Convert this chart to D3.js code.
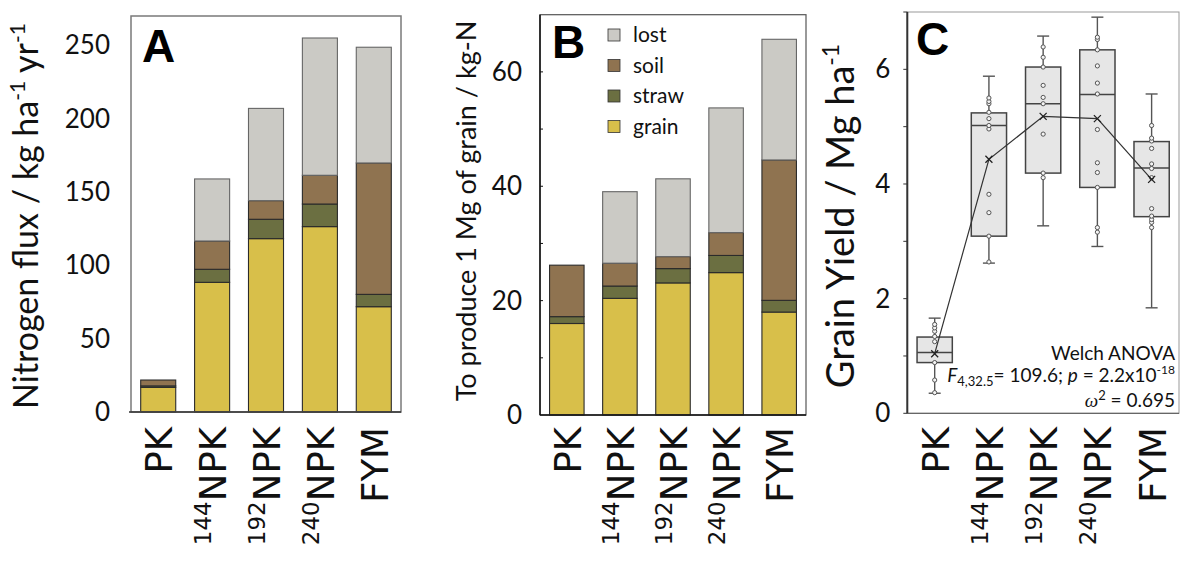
<!DOCTYPE html>
<html>
<head>
<meta charset="utf-8">
<script src="https://cdn.jsdelivr.net/npm/d3@7"></script>
<style>
  html, body { margin: 0; padding: 0; background: #fff; }
  svg { display: block; }
</style>
</head>
<body>
<svg id="chart" width="1181" height="565"></svg>
<script>
// ---------------- DATA ----------------
const categories = ["PK", "144NPK", "192NPK", "240NPK", "FYM"];
const labelPrefix = ["", "144", "192", "240", ""];
const labelMain = ["PK", "NPK", "NPK", "NPK", "FYM"];

const seriesNames = ["grain", "straw", "soil", "lost"];
const legendOrder = ["lost", "soil", "straw", "grain"];

// Panel A: Nitrogen flux (kg ha-1 yr-1)
const fluxGrain = [16.8, 88.4, 118.2, 126.4, 71.8];
const fluxStraw = [1.0, 8.9, 13.2, 15.4, 8.4];
const fluxSoil  = [4.0, 19.3, 12.7, 19.6, 89.6];
const fluxLost  = [0, 42.3, 62.9, 93.6, 78.9];
const fluxTicks = [0, 50, 100, 150, 200, 250];

// Panel B: N to produce 1 Mg of grain (kg-N)
const perGrainGrain = [16.0, 20.4, 23.1, 24.9, 18.0];
const perGrainStraw = [1.2, 2.15, 2.5, 3.0, 2.05];
const perGrainSoil  = [9.0, 4.0, 2.1, 4.0, 24.55];
const perGrainLost  = [0, 12.5, 13.6, 21.8, 21.1];
const perGrainTicks = [0, 20, 40, 60];

// Panel C: Grain yield (Mg ha-1) box plots
const yieldMin    = [0.35, 2.62, 3.27, 2.91, 1.84];
const yieldQ1     = [0.885, 3.09, 4.19, 3.94, 3.43];
const yieldMedian = [1.06, 5.02, 5.40, 5.56, 4.28];
const yieldQ3     = [1.33, 5.24, 6.04, 6.34, 4.74];
const yieldMax    = [1.66, 5.88, 6.58, 6.91, 5.57];
const yieldMean   = [1.04, 4.43, 5.18, 5.14, 4.08];
const yieldPointsPK     = [0.36, 0.58, 0.885, 1.25, 1.34, 1.43, 1.49, 1.55];
const yieldPoints144NPK = [2.64, 3.09, 3.50, 3.82, 4.96, 5.02, 5.14, 5.25, 5.40, 5.44, 5.50];
const yieldPoints192NPK = [4.11, 4.19, 4.87, 5.40, 5.51, 5.72, 6.04, 6.21, 6.39];
const yieldPoints240NPK = [3.16, 3.24, 3.94, 4.20, 4.37, 4.95, 5.57, 5.76, 6.06, 6.34, 6.52, 6.56];
const yieldPointsFYM    = [3.24, 3.33, 3.38, 3.44, 3.57, 4.11, 4.27, 4.35, 4.62, 4.75, 4.80, 5.02];
const yieldTicks = [0, 2, 4, 6];

// ---------------- STYLE ----------------
const colors = { grain: "#d8bf4a", straw: "#6b6f41", soil: "#8f7350", lost: "#cbcac5" };
const sansFont = "Lato, 'Open Sans', sans-serif";
const labelFont = "'DejaVu Sans', sans-serif";

const svg = d3.select("#chart");

function stackedPanel(cfg) {
  const { left, right, top, bottom, domainMax, grain, straw, soil, lost, ticks } = cfg;
  const rows = categories.map((c, i) => ({ cat: c, grain: grain[i], straw: straw[i], soil: soil[i], lost: lost[i] }));
  const x = d3.scaleBand().domain(categories).range([left, right]).paddingInner(0.35).paddingOuter(0.18);
  const y = d3.scaleLinear().domain([0, domainMax]).range([bottom, top]);
  const g = svg.append("g");

  const stacked = d3.stack().keys(seriesNames)(rows);
  g.selectAll("g.layer").data(stacked).join("g")
    .attr("fill", d => colors[d.key])
    .selectAll("rect").data(d => d.filter(e => e[1] - e[0] > 0)).join("rect")
    .attr("x", d => x(d.data.cat))
    .attr("width", x.bandwidth())
    .attr("y", d => y(d[1]))
    .attr("height", d => y(d[0]) - y(d[1]))
    .attr("stroke", function() { return d3.select(this.parentNode).datum().key === "lost" ? "#666" : "#2b2b2b"; })
    .attr("stroke-width", 1.1);

  g.selectAll("text.tick").data(ticks).join("text")
    .attr("x", left - cfg.tickGap)
    .attr("y", d => y(d))
    .attr("dy", "0.35em")
    .attr("text-anchor", "end")
    .attr("font-family", sansFont)
    .attr("font-size", cfg.tickSize)
    .attr("fill", "#111")
    .text(d => d);

  return { x, y, g };
}

// ---------------- PANEL A ----------------
const A = stackedPanel({ left: 131, right: 401, top: 16, bottom: 412, domainMax: 270,
  grain: fluxGrain, straw: fluxStraw, soil: fluxSoil, lost: fluxLost, ticks: fluxTicks, tickGap: 21, tickSize: 26 });
A.g.append("rect").attr("x", 131).attr("y", 16).attr("width", 270).attr("height", 396)
  .attr("fill", "none").attr("stroke", "#7a7a7a").attr("stroke-width", 1.5);
A.g.append("line").attr("x1", 129).attr("x2", 401).attr("y1", 412).attr("y2", 412).attr("stroke", "#333").attr("stroke-width", 1.5);

// ---------------- PANEL B ----------------
const B = stackedPanel({ left: 540, right: 806, top: 14.7, bottom: 415, domainMax: 70,
  grain: perGrainGrain, straw: perGrainStraw, soil: perGrainSoil, lost: perGrainLost, ticks: perGrainTicks, tickGap: 18, tickSize: 26 });
B.g.append("rect").attr("x", 540).attr("y", 14.7).attr("width", 266).attr("height", 400.3)
  .attr("fill", "none").attr("stroke", "#555").attr("stroke-width", 1.2);
B.g.append("line").attr("x1", 540).attr("x2", 540).attr("y1", 14.7).attr("y2", 415).attr("stroke", "#111").attr("stroke-width", 1.5);
B.g.append("line").attr("x1", 540).attr("x2", 806).attr("y1", 415).attr("y2", 415).attr("stroke", "#111").attr("stroke-width", 1.5);
B.g.selectAll("line.minor").data(d3.range(10, 70, 10)).join("line")
  .attr("x1", 540).attr("x2", 543).attr("y1", d => B.y(d)).attr("y2", d => B.y(d))
  .attr("stroke", "#111").attr("stroke-width", 1);

// Legend in B
const leg = svg.append("g");
legendOrder.forEach((k, i) => {
  const cy = 35 + i * 30.5;
  leg.append("rect").attr("x", 608).attr("y", cy - 6).attr("width", 12).attr("height", 12)
    .attr("fill", colors[k]).attr("stroke", "#333").attr("stroke-width", 0.8);
  leg.append("text").attr("x", 633).attr("y", cy).attr("dy", "0.35em")
    .attr("font-family", sansFont).attr("font-size", 21).attr("fill", "#111").text(k);
});

// ---------------- PANEL C ----------------
const cLeft = 907.3, cRight = 1179, cTop = 12, cBottom = 413.3;
const xC = d3.scaleBand().domain(categories).range([cLeft, cRight]).paddingInner(0.35).paddingOuter(0.18);
const yC = d3.scaleLinear().domain([0, 7]).range([cBottom, cTop]);
const C = svg.append("g");
C.append("rect").attr("x", cLeft).attr("y", cTop).attr("width", cRight - cLeft).attr("height", cBottom - cTop)
  .attr("fill", "none").attr("stroke", "#999").attr("stroke-width", 1);
C.append("line").attr("x1", cLeft).attr("x2", cRight).attr("y1", cBottom).attr("y2", cBottom).attr("stroke", "#666").attr("stroke-width", 1.2);
C.append("line").attr("x1", cLeft).attr("x2", cLeft).attr("y1", cTop).attr("y2", cBottom).attr("stroke", "#333").attr("stroke-width", 2);
C.selectAll("line.tk").data(d3.range(0, 8, 1)).join("line")
  .attr("x1", cLeft - 4).attr("x2", cLeft).attr("y1", d => yC(d)).attr("y2", d => yC(d))
  .attr("stroke", "#333").attr("stroke-width", 1);
C.selectAll("text.tick").data(yieldTicks).join("text")
  .attr("x", cLeft - 17).attr("y", d => yC(d)).attr("dy", "0.35em").attr("text-anchor", "end")
  .attr("font-family", sansFont).attr("font-size", 26).attr("fill", "#111").text(d => d);

const allPoints = [yieldPointsPK, yieldPoints144NPK, yieldPoints192NPK, yieldPoints240NPK, yieldPointsFYM];
const bw = xC.bandwidth();
categories.forEach((c, i) => {
  const cx = xC(c) + bw / 2;
  const gb = C.append("g");
  gb.append("line").attr("x1", cx).attr("x2", cx).attr("y1", yC(yieldMax[i])).attr("y2", yC(yieldQ3[i])).attr("stroke", "#555").attr("stroke-width", 1.4);
  gb.append("line").attr("x1", cx).attr("x2", cx).attr("y1", yC(yieldQ1[i])).attr("y2", yC(yieldMin[i])).attr("stroke", "#555").attr("stroke-width", 1.4);
  [yieldMax[i], yieldMin[i]].forEach(v => {
    gb.append("line").attr("x1", cx - 6).attr("x2", cx + 6).attr("y1", yC(v)).attr("y2", yC(v)).attr("stroke", "#555").attr("stroke-width", 1.4);
  });
  gb.append("rect").attr("x", xC(c)).attr("width", bw).attr("y", yC(yieldQ3[i])).attr("height", yC(yieldQ1[i]) - yC(yieldQ3[i]))
    .attr("fill", "#e6e6e6").attr("stroke", "#444").attr("stroke-width", 1.5);
  gb.append("line").attr("x1", xC(c)).attr("x2", xC(c) + bw).attr("y1", yC(yieldMedian[i])).attr("y2", yC(yieldMedian[i])).attr("stroke", "#444").attr("stroke-width", 1.5);
  gb.selectAll("circle").data(allPoints[i]).join("circle")
    .attr("cx", cx).attr("cy", d => yC(d)).attr("r", 2.1)
    .attr("fill", "#f4f4f4").attr("stroke", "#555").attr("stroke-width", 1);
});
const meanLine = d3.line().x((d, i) => xC(categories[i]) + bw / 2).y(d => yC(d));
C.append("path").attr("d", meanLine(yieldMean)).attr("fill", "none").attr("stroke", "#333").attr("stroke-width", 1.2);
C.selectAll("path.mk").data(yieldMean).join("path")
  .attr("d", (d, i) => {
    const cx = xC(categories[i]) + bw / 2, cy = yC(d), s = 3.5;
    return `M${cx - s},${cy - s}L${cx + s},${cy + s}M${cx - s},${cy + s}L${cx + s},${cy - s}`;
  })
  .attr("stroke", "#222").attr("stroke-width", 1.3);

// ANOVA text
const an = C.append("g").attr("font-family", sansFont).attr("font-size", 19).attr("fill", "#111");
an.append("text").attr("x", 1175).attr("y", 360).attr("text-anchor", "end").text("Welch ANOVA");
const t2 = an.append("text").attr("x", 1175).attr("y", 382).attr("text-anchor", "end");
t2.append("tspan").attr("font-style", "italic").text("F");
t2.append("tspan").attr("font-size", 13).attr("dy", 4).text("4,32.5");
t2.append("tspan").attr("dy", -4).text("= 109.6; ");
t2.append("tspan").attr("font-style", "italic").text("p");
t2.append("tspan").text(" = 2.2x10");
t2.append("tspan").attr("font-size", 12).attr("dy", -8).text("-18");
const t3 = an.append("text").attr("x", 1175).attr("y", 407).attr("text-anchor", "end");
t3.append("tspan").attr("font-family", "'Liberation Serif', serif").attr("font-style", "italic").text("ω");
t3.append("tspan").attr("font-size", 13).attr("dy", -7).text("2");
t3.append("tspan").attr("dy", 7).text(" = 0.695");

// ---------------- X LABELS ----------------
function xLabels(scale) {
  categories.forEach((c, i) => {
    const cx = scale(c) + scale.bandwidth() / 2 + 14;
    const t = svg.append("text")
      .attr("transform", `translate(${cx},427) rotate(-90)`)
      .attr("text-anchor", "end")
      .attr("font-family", labelFont).attr("fill", "#111");
    if (labelPrefix[i]) {
      t.append("tspan").attr("font-size", 23).attr("dy", -15).text(labelPrefix[i]);
      t.append("tspan").attr("font-size", 37).attr("dy", 15).text(labelMain[i]);
    } else {
      t.append("tspan").attr("font-size", 37).text(labelMain[i]);
    }
  });
}
xLabels(A.x);
xLabels(B.x);
xLabels(xC);

// ---------------- Y TITLES ----------------
const tA = svg.append("text").attr("transform", "translate(38,216) rotate(-90)")
  .attr("text-anchor", "middle").attr("font-family", sansFont).attr("font-size", 34).attr("fill", "#111");
tA.append("tspan").text("Nitrogen flux / kg ha");
tA.append("tspan").attr("font-size", 21).attr("dy", -13).text("-1");
tA.append("tspan").attr("dy", 13).text(" yr");
tA.append("tspan").attr("font-size", 21).attr("dy", -13).text("-1");

svg.append("text").attr("transform", "translate(476,211) rotate(-90)")
  .attr("text-anchor", "middle").attr("font-family", sansFont).attr("font-size", 27).attr("fill", "#111")
  .text("To produce 1 Mg of grain / kg-N");

const tC = svg.append("text").attr("transform", "translate(854,216) rotate(-90)")
  .attr("text-anchor", "middle").attr("font-family", sansFont).attr("font-size", 38).attr("fill", "#111");
tC.append("tspan").text("Grain Yield / Mg ha");
tC.append("tspan").attr("font-size", 23).attr("dy", -15).text("-1");

// ---------------- PANEL LETTERS ----------------
[["A", 142, 62], ["B", 552, 58], ["C", 916, 55]].forEach(([l, x, y]) => {
  svg.append("text").attr("x", x).attr("y", y).attr("font-family", "'Liberation Sans', Arial, sans-serif")
    .attr("font-weight", "bold").attr("font-size", 46).attr("fill", "#000").text(l);
});
</script>
</body>
</html>
